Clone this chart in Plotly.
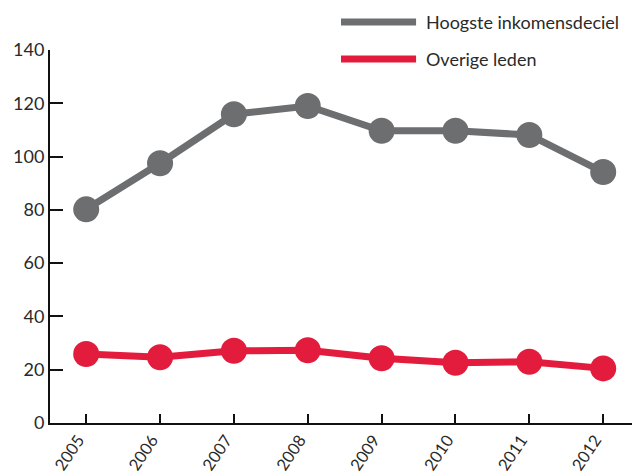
import plotly.graph_objects as go

years = [2005, 2006, 2007, 2008, 2009, 2010, 2011, 2012]
hoogste = [80.2, 97.5, 115.9, 119.0, 109.7, 109.7, 108.1, 94.2]
overige = [25.9, 24.7, 27.1, 27.3, 24.3, 22.6, 23.0, 20.5]
series_names = ["Hoogste inkomensdeciel", "Overige leden"]
series_colors = ["#6d6e70", "#e31c3d"]
y_ticks = [0, 20, 40, 60, 80, 100, 120, 140]

fig = go.Figure()
for name, vals, col in zip(series_names, [hoogste, overige], series_colors):
    fig.add_trace(go.Scatter(
        x=years, y=vals, name=name, mode="lines+markers",
        line=dict(color=col, width=7),
        marker=dict(color=col, size=26),
        showlegend=False,
    ))

# manual legend (line swatches + labels)
legend_y = [1.075, 0.976]
for i, (name, col) in enumerate(zip(series_names, series_colors)):
    fig.add_shape(type="line", xref="paper", yref="paper",
                  x0=0.5, x1=0.629, y0=legend_y[i], y1=legend_y[i],
                  line=dict(color=col, width=7))
    fig.add_annotation(xref="paper", yref="paper", x=0.642, y=legend_y[i],
                       text=name, showarrow=False, xanchor="left", yanchor="middle",
                       font=dict(size=18, color="#2a2a2a", family="Lato"))

fig.update_layout(
    width=632, height=476,
    margin=dict(l=50, r=0, t=50, b=53, autoexpand=False),
    plot_bgcolor="white", paper_bgcolor="white",
    font=dict(family="Lato", size=17, color="#2a2a2a"),
)
fig.update_xaxes(
    range=[2004.51, 2012.39], tickvals=years, ticktext=[str(y) for y in years],
    tickangle=-56, ticks="inside", ticklen=9, tickwidth=1.5, tickcolor="#111111",
    showline=True, linecolor="#111111", linewidth=2, showgrid=False, zeroline=False,
    tickfont=dict(size=16.5), automargin=False, ticklabelstandoff=-1, ticklabelshift=-8,
)
fig.update_yaxes(
    range=[0, 140], tickvals=y_ticks, ticks="inside", ticklen=13, tickwidth=2,
    tickcolor="#111111", showline=True, linecolor="#111111", linewidth=2,
    showgrid=False, zeroline=False, tickfont=dict(size=18), automargin=False,
)
fig.write_html("out.html", config={"displayModeBar": False},
               post_script="document.body.style.margin='0';")
